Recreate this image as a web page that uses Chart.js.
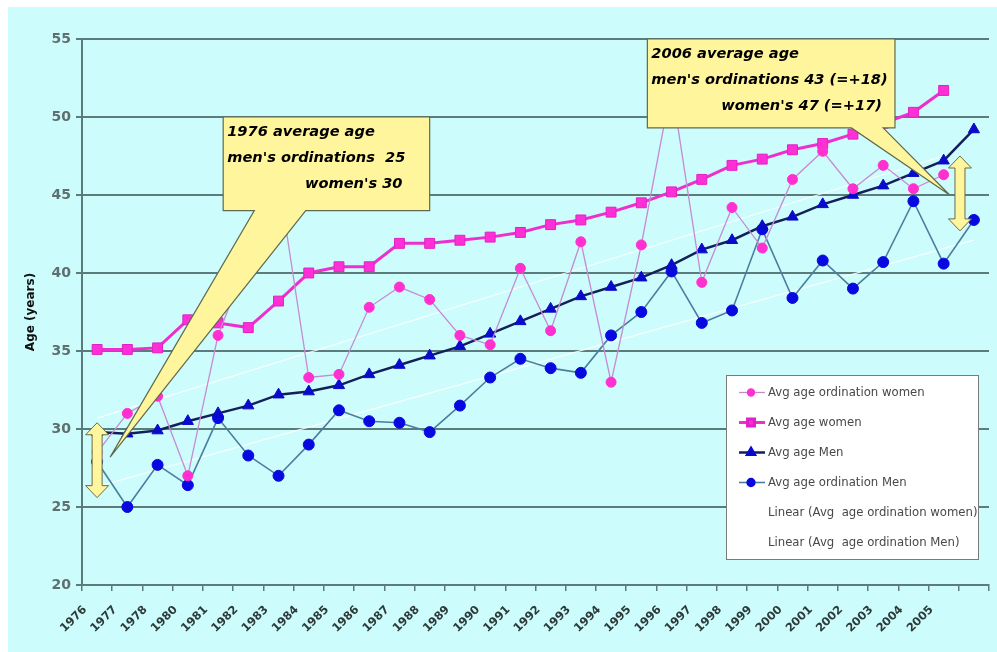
<!DOCTYPE html>
<html>
<head>
<meta charset="utf-8">
<title>Average age at ordination</title>
<script src="https://cdn.jsdelivr.net/npm/chart.js@4.4.1/dist/chart.umd.min.js"></script>
<style>
  html, body { margin: 0; padding: 0; background: #ffffff; }
  #frame { position: absolute; left: 8px; top: 7px; width: 989px; height: 645px; background: #ccfcfc; }
</style>
</head>
<body>
<div id="frame"><canvas id="ageChart"></canvas></div>
<script>
// category labels (1979 is missing on the original axis, last point has no label)
const years = ["1976", "1977", "1978", "1980", "1981", "1982", "1983", "1984", "1985",
  "1986", "1987", "1988", "1989", "1990", "1991", "1992", "1993", "1994", "1995",
  "1996", "1997", "1998", "1999", "2000", "2001", "2002", "2003", "2004", "2005", ""];

const ordWomen = [28.5, 31.0, 32.1, 27.0, 36.0, 41.0, 46.0, 33.3, 33.5, 37.8, 39.1, 38.3,
  36.0, 35.4, 40.3, 36.3, 42.0, 33.0, 41.8, 52.0, 39.4, 44.2, 41.6, 46.0, 47.8, 45.4,
  46.9, 45.4, 46.3, null];
const avgWomen = [35.1, 35.1, 35.2, 37.0, 36.8, 36.5, 38.2, 40.0, 40.4, 40.4, 41.9, 41.9,
  42.1, 42.3, 42.6, 43.1, 43.4, 43.9, 44.5, 45.2, 46.0, 46.9, 47.3, 47.9, 48.3, 48.9,
  49.6, 50.3, 51.7, null];
const avgMen = [29.8, 29.7, 29.9, 30.5, 31.0, 31.5, 32.2, 32.4, 32.8, 33.5, 34.1, 34.7,
  35.3, 36.1, 36.9, 37.7, 38.5, 39.1, 39.7, 40.5, 41.5, 42.1, 43.0, 43.6, 44.4, 45.0,
  45.6, 46.4, 47.2, 49.2];
const ordMen = [27.9, 25.0, 27.7, 26.4, 30.7, 28.3, 27.0, 29.0, 31.2, 30.5, 30.4, 29.8,
  31.5, 33.3, 34.5, 33.9, 33.6, 36.0, 37.5, 40.1, 36.8, 37.6, 42.8, 38.4, 40.8, 39.0,
  40.7, 44.6, 40.6, 43.4];

// end values of the Excel linear trend lines
const trendOrdWomen = [30.7, 47.5];
const trendOrdMen = [26.3, 42.1];

const yTicks = [20, 25, 30, 35, 40, 45, 50, 55];

const legendLabels = [
  "Avg age ordination women",
  "Avg age women",
  "Avg age Men",
  "Avg age ordination Men",
  "Linear (Avg  age ordination women)",
  "Linear (Avg  age ordination Men)",
];

function trendSeries(ends, lastIdx) {
  return years.map((_, i) => (i === 0 ? ends[0] : i === lastIdx ? ends[1] : null));
}

// callout boxes, positioned in data units (x = category index, y = age)
const callouts = [
  {
    left: 4.17, right: 11.0, top: 50, bottom: 44.0,
    base1: 5.2, base2: 6.9, tipX: 0.43, tipY: 28.2,
    lines: [
      { text: "1976 average age", align: "left" },
      { text: "men's ordinations  25", align: "left" },
      { text: "women's 30", align: "right", rightAt: 10.1 },
    ],
  },
  {
    left: 18.2, right: 26.39, top: 55, bottom: 49.3,
    base1: 24.95, base2: 26.0, tipX: 28.2, tipY: 45.0,
    lines: [
      { text: "2006 average age", align: "left" },
      { text: "men's ordinations 43 (=+18)", align: "left" },
      { text: "women's 47 (=+17)", align: "right", rightAt: 25.96 },
    ],
  },
];

const arrows = [
  { x: 0, top: 30.4, bottom: 25.6 },
  { x: 28.54, top: 47.5, bottom: 42.7 },
];

const calloutPlugin = {
  id: "callouts",
  afterDatasetsDraw(chart) {
    const ctx = chart.ctx;
    const xs = chart.scales.x;
    const ys = chart.scales.y;
    ctx.save();

    // double arrows
    arrows.forEach((a) => {
      const cx = xs.getPixelForValue(a.x);
      const t = ys.getPixelForValue(a.top);
      const b = ys.getPixelForValue(a.bottom);
      const hw = 11.5, sw = 5, hh = 12;
      ctx.beginPath();
      ctx.moveTo(cx, t);
      ctx.lineTo(cx + hw, t + hh);
      ctx.lineTo(cx + sw, t + hh);
      ctx.lineTo(cx + sw, b - hh);
      ctx.lineTo(cx + hw, b - hh);
      ctx.lineTo(cx, b);
      ctx.lineTo(cx - hw, b - hh);
      ctx.lineTo(cx - sw, b - hh);
      ctx.lineTo(cx - sw, t + hh);
      ctx.lineTo(cx - hw, t + hh);
      ctx.closePath();
      ctx.fillStyle = "#fff59d";
      ctx.fill();
      ctx.strokeStyle = "#6b6b4a";
      ctx.lineWidth = 1;
      ctx.stroke();
    });

    // callout boxes with pointer
    callouts.forEach((c) => {
      const l = xs.getPixelForValue(c.left);
      const r = xs.getPixelForValue(c.right);
      const t = ys.getPixelForValue(c.top);
      const b = ys.getPixelForValue(c.bottom);
      ctx.beginPath();
      ctx.moveTo(l, t);
      ctx.lineTo(r, t);
      ctx.lineTo(r, b);
      ctx.lineTo(xs.getPixelForValue(c.base2), b);
      ctx.lineTo(xs.getPixelForValue(c.tipX), ys.getPixelForValue(c.tipY));
      ctx.lineTo(xs.getPixelForValue(c.base1), b);
      ctx.lineTo(l, b);
      ctx.closePath();
      ctx.fillStyle = "#fff59d";
      ctx.fill();
      ctx.strokeStyle = "#5f6a50";
      ctx.lineWidth = 1.2;
      ctx.stroke();

      ctx.fillStyle = "#000000";
      ctx.font = "italic bold 14.6px 'DejaVu Sans', sans-serif";
      ctx.textBaseline = "middle";
      c.lines.forEach((ln, i) => {
        const y = t + 15.5 + i * 25.7;
        if (ln.align === "right") {
          ctx.textAlign = "right";
          ctx.fillText(ln.text, xs.getPixelForValue(ln.rightAt), y);
        } else {
          ctx.textAlign = "left";
          ctx.fillText(ln.text, l + 4, y);
        }
      });
    });
    ctx.restore();
  },
  afterDraw(chart) {
    // legend box inside the plot, bottom right
    const ctx = chart.ctx;
    const bx = 718, by = 368, bw = 252, bh = 184;
    ctx.save();
    ctx.fillStyle = "#ffffff";
    ctx.fillRect(bx, by, bw, bh);
    ctx.strokeStyle = "#7a7a7a";
    ctx.lineWidth = 1;
    ctx.strokeRect(bx + 0.5, by + 0.5, bw, bh);

    chart.data.datasets.forEach((ds, i) => {
      const y = by + 17.5 + i * 30;
      if (!ds.isTrend) {
        ctx.strokeStyle = ds.borderColor;
        ctx.lineWidth = ds.borderWidth;
        ctx.beginPath();
        ctx.moveTo(bx + 13, y);
        ctx.lineTo(bx + 39, y);
        ctx.stroke();
        ctx.fillStyle = ds.pointBackgroundColor;
        ctx.strokeStyle = ds.pointBorderColor;
        Chart.helpers.drawPoint(ctx, {
          pointStyle: ds.pointStyle,
          radius: ds.pointRadius * 0.7,
          rotation: 0,
          borderWidth: 1,
        }, bx + 25, y);
      }
      ctx.fillStyle = "#484848";
      ctx.font = "11.7px 'DejaVu Sans', sans-serif";
      ctx.textAlign = "left";
      ctx.textBaseline = "middle";
      ctx.fillText(legendLabels[i], bx + 42, y);
    });
    ctx.restore();
  },
};

const gridColor = "#5c7c7c";

new Chart(document.getElementById("ageChart"), {
  type: "line",
  data: {
    labels: years,
    datasets: [
      {
        label: legendLabels[0],
        data: ordWomen,
        borderColor: "#c68ad2",
        borderWidth: 1.3,
        pointStyle: "circle",
        pointRadius: 5,
        pointBackgroundColor: "#ff2fd0",
        pointBorderColor: "#ff2fd0",
        pointBorderWidth: 1,
      },
      {
        label: legendLabels[1],
        data: avgWomen,
        borderColor: "#ee2fd0",
        borderWidth: 3,
        pointStyle: "rect",
        pointRadius: 7,
        pointBackgroundColor: "#ff2fd6",
        pointBorderColor: "#e020c8",
        pointBorderWidth: 1,
      },
      {
        label: legendLabels[2],
        data: avgMen,
        borderColor: "#14205a",
        borderWidth: 2.5,
        pointStyle: "triangle",
        pointRadius: 6.5,
        pointBackgroundColor: "#0a0acc",
        pointBorderColor: "#0a0acc",
        pointBorderWidth: 1,
      },
      {
        label: legendLabels[3],
        data: ordMen,
        borderColor: "#4a7e9e",
        borderWidth: 1.6,
        pointStyle: "circle",
        pointRadius: 5.5,
        pointBackgroundColor: "#0808e0",
        pointBorderColor: "#0808e0",
        pointBorderWidth: 1,
      },
      {
        label: legendLabels[4],
        isTrend: true,
        data: trendSeries(trendOrdWomen, 28),
        borderColor: "rgba(255,255,255,0.85)",
        borderWidth: 1.3,
        pointRadius: 0,
        spanGaps: true,
      },
      {
        label: legendLabels[5],
        isTrend: true,
        data: trendSeries(trendOrdMen, 29),
        borderColor: "rgba(255,255,255,0.85)",
        borderWidth: 1.3,
        pointRadius: 0,
        spanGaps: true,
      },
    ],
  },
  options: {
    responsive: true,
    maintainAspectRatio: false,
    animation: false,
    layout: { padding: { left: 0, top: 32, right: 7, bottom: 0 } },
    plugins: {
      legend: { display: false },
      tooltip: { enabled: false },
    },
    scales: {
      x: {
        offset: true,
        grid: {
          display: true,
          drawOnChartArea: false,
          offset: true,
          color: gridColor,
          tickLength: 6,
          lineWidth: 1.5,
        },
        border: { color: gridColor, width: 2 },
        ticks: {
          autoSkip: false,
          maxRotation: 45,
          minRotation: 45,
          padding: 12,
          labelOffset: -12,
          color: "#2e3a3a",
          font: { size: 11.5, weight: "bold", family: "'DejaVu Sans', sans-serif" },
        },
        afterFit: (s) => { s.height = 67; },
      },
      y: {
        min: 20,
        max: 55,
        afterBuildTicks: (s) => { s.ticks = yTicks.map((v) => ({ value: v })); },
        grid: {
          color: gridColor,
          lineWidth: 2,
          tickLength: 6,
        },
        border: { color: gridColor, width: 2 },
        ticks: {
          padding: 5,
          color: "#5f6f6f",
          font: { size: 14, weight: "bold", family: "'DejaVu Sans', sans-serif" },
        },
        title: {
          display: true,
          text: "Age (years)",
          color: "#111111",
          font: { size: 12, weight: "bold", family: "'DejaVu Sans', sans-serif" },
          padding: { top: 16, bottom: 0 },
        },
        afterFit: (s) => { s.width = 74; },
      },
    },
  },
  plugins: [calloutPlugin],
});
</script>
</body>
</html>
